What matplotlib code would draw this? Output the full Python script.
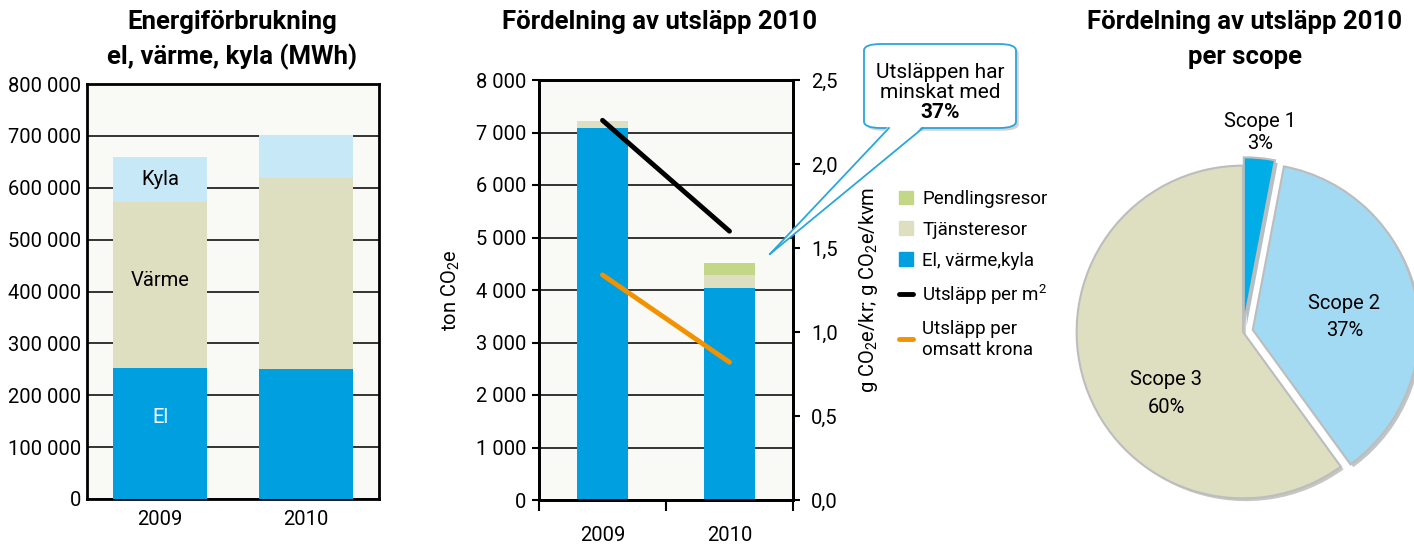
import matplotlib
matplotlib.use("Agg")
from matplotlib import pyplot as plt, patheffects as pe
from matplotlib.patches import FancyBboxPatch, Polygon, Patch
from matplotlib.lines import Line2D
from matplotlib.ticker import FuncFormatter
import numpy as np

plt.rcParams["font.family"] = ["Roboto", "DejaVu Sans"]
plt.rcParams["mathtext.fontset"] = "custom"
plt.rcParams["mathtext.rm"] = "Roboto"

W, H = 1414, 545

# Energiförbrukning (MWh)
years = ["2009", "2010"]
el = [252000, 250000]
varme = [321000, 368000]
kyla = [87000, 84000]

# Utsläpp (ton CO2e)
el_co2 = [7090, 4045]
tjanste = [130, 240]
pendling = [0, 235]
per_m2 = [2.26, 1.60]
per_krona = [1.34, 0.82]

# Scope
scope_labels = ["Scope 3\n60%", "Scope 2\n37%", "Scope 1\n3%"]
scope_share = [60, 37, 3]

BLUE = "#009fdf"
BEIGE = "#dedfc1"
LIGHTBLUE = "#c7e8f7"
GREEN = "#c4d787"
BG = "#f9f9f5"
FS = 14.5
TFS = 18.5


def px_axes(fig, left, top, right, bottom):
    """Add axes from pixel coordinates (origin top left)."""
    return fig.add_axes([left / W, (H - bottom) / H, (right - left) / W, (bottom - top) / H])


def space_thousands(v, _):
    return f"{int(v):,}".replace(",", " ")


fig = plt.figure(figsize=(W / 100, H / 100), dpi=100)

# --- chart 1 ---
ax1 = px_axes(fig, 87, 84, 379, 499)
ax1.set_facecolor(BG)
x = np.arange(len(years))
bw = 0.64
ax1.bar(x, el, bw, color=BLUE, zorder=3)
ax1.bar(x, varme, bw, bottom=el, color=BEIGE, zorder=3)
bottom_k = np.add(el, varme)
ax1.bar(x, kyla, bw, bottom=bottom_k, color=LIGHTBLUE, zorder=3)
ax1.set_xlim(-0.5, 1.5)
ax1.set_ylim(0, 800000)
ax1.set_yticks(np.arange(0, 800001, 100000))
ax1.yaxis.set_major_formatter(FuncFormatter(space_thousands))
ax1.set_xticks(x, years)
ax1.grid(axis="y", color="#333333", lw=1.4, zorder=1)
ax1.tick_params(axis="both", length=0, labelsize=FS, pad=4)
ax1.tick_params(axis="x", pad=8)
for s in ax1.spines.values():
    s.set_linewidth(2)
ax1.text(0, bottom_k[0] + kyla[0] * 0.5, "Kyla", ha="center", va="center", fontsize=FS, zorder=4)
ax1.text(0, el[0] + varme[0] * 0.53, "Värme", ha="center", va="center", fontsize=FS, zorder=4)
ax1.text(0, el[0] * 0.62, "El", ha="center", va="center", fontsize=FS, color="white", zorder=4)

fig.text(232 / W, 1 - 22 / H, "Energiförbrukning", ha="center", va="center", fontsize=TFS, fontweight="bold")
fig.text(232 / W, 1 - 57 / H, "el, värme, kyla (MWh)", ha="center", va="center", fontsize=TFS, fontweight="bold")

# --- chart 2 ---
ax2 = px_axes(fig, 539, 80, 793, 500)
ax2.set_facecolor(BG)
bw2 = 0.4
ax2.bar(x, el_co2, bw2, color=BLUE, zorder=3)
ax2.bar(x, tjanste, bw2, bottom=el_co2, color=BEIGE, zorder=3)
ax2.bar(x, pendling, bw2, bottom=np.add(el_co2, tjanste), color=GREEN, zorder=3)
ax2.set_xlim(-0.5, 1.5)
ax2.set_ylim(0, 8000)
ax2.set_yticks(np.arange(0, 8001, 1000))
ax2.yaxis.set_major_formatter(FuncFormatter(space_thousands))
ax2.grid(axis="y", color="#333333", lw=1.4, zorder=1)
ax2.set_xticks([-0.5, 0.5, 1.5])
ax2.set_xticklabels([])
ax2.set_xticks(x, years, minor=True)
ax2.tick_params(axis="x", which="major", length=8, width=1.5, direction="out")
ax2.tick_params(axis="x", which="minor", length=0, labelsize=FS, pad=19)
ax2.tick_params(axis="y", length=5, width=1.5, labelsize=FS, pad=4)
for s in ax2.spines.values():
    s.set_linewidth(2)
ax2.set_ylabel(r"ton CO$_\mathregular{2}$e", fontsize=FS, labelpad=10)

ax2r = ax2.twinx()
ax2r.set_ylim(0, 2.5)
ax2r.set_yticks(np.arange(0, 2.51, 0.5))
ax2r.yaxis.set_major_formatter(FuncFormatter(lambda v, _: f"{v:.1f}".replace(".", ",")))
ax2r.tick_params(axis="y", length=5, width=1.5, labelsize=FS, pad=8)
ax2r.plot(x, per_m2, color="black", lw=3.5, solid_capstyle="round", zorder=5)
ax2r.plot(x, per_krona, color="#f39200", lw=3.5, solid_capstyle="round", zorder=5)
for s in ax2r.spines.values():
    s.set_linewidth(2)
ax2r.set_ylabel(r"g CO$_\mathregular{2}$e/kr; g CO$_\mathregular{2}$e/kvm", fontsize=FS, labelpad=14)

fig.text(660 / W, 1 - 22 / H, "Fördelning av utsläpp 2010", ha="center", va="center", fontsize=TFS, fontweight="bold")

handles = [
    Patch(color=GREEN), Patch(color=BEIGE), Patch(color=BLUE),
    Line2D([], [], color="black", lw=3.5, solid_capstyle="round"),
    Line2D([], [], color="#f39200", lw=3.5, solid_capstyle="round"),
]
labels = ["Pendlingsresor", "Tjänsteresor", "El, värme,kyla", r"Utsläpp per m$^\mathregular{2}$",
          "Utsläpp per\nomsatt krona"]
fig.legend(handles, labels, loc="upper left", bbox_to_anchor=(899 / W, 1 - 190 / H), frameon=False,
           fontsize=13.5, handlelength=0.75, handleheight=0.75, handletextpad=0.5, labelspacing=0.68,
           borderpad=0, borderaxespad=0)

# callout
box = FancyBboxPatch((864 / W, 1 - 128 / H), 152 / W, 84 / H, transform=fig.transFigure,
                     boxstyle="round,pad=0,rounding_size=0.012", facecolor="white",
                     edgecolor="#2aa6dc", lw=1.3, zorder=10,
                     path_effects=[pe.SimplePatchShadow(offset=(2, -2), alpha=0.25), pe.Normal()])
fig.patches.append(box)
tip = (770 / W, 1 - 254 / H)
b1 = (889 / W, 1 - 128 / H)
b2 = (923 / W, 1 - 128 / H)
fig.patches.append(Polygon([(b1[0], b1[1] + 0.004), tip, (b2[0], b2[1] + 0.004)], closed=True,
                           transform=fig.transFigure, facecolor="white", edgecolor="none", zorder=11))
for b in (b1, b2):
    fig.lines.append(Line2D([b[0], tip[0]], [b[1], tip[1]], transform=fig.transFigure,
                            color="#2aa6dc", lw=1.3, zorder=12))
fig.text(940 / W, 1 - 72 / H, "Utsläppen har", ha="center", va="center", fontsize=15, zorder=13)
fig.text(940 / W, 1 - 92 / H, "minskat med", ha="center", va="center", fontsize=15, zorder=13)
fig.text(940 / W, 1 - 113 / H, "37%", ha="center", va="center", fontsize=15, fontweight="bold", zorder=13)

# --- chart 3 ---
ax3 = px_axes(fig, 1243 - 183, 332 - 183, 1243 + 183, 332 + 183)
wedges, _ = ax3.pie(scope_share, startangle=90, counterclock=True,
                    colors=[BEIGE, "#a2d9f3", "#00ade6"], explode=[0, 0.06, 0.05],
                    wedgeprops=dict(edgecolor="#bdbdbd", lw=1.5))
for w in wedges:
    w.set_path_effects([pe.SimplePatchShadow(offset=(2, -2), alpha=0.3), pe.Normal()])
ax3.set_xlim(-1.1, 1.1)
ax3.set_ylim(-1.1, 1.1)
ax3.set_aspect("equal")
ax3.text(-0.46, -0.37, scope_labels[0], ha="center", va="center", fontsize=FS, linespacing=1.55)
ax3.text(0.61, 0.09, scope_labels[1], ha="center", va="center", fontsize=FS, linespacing=1.55)
ax3.text(0.10, 1.20, scope_labels[2], ha="center", va="center", fontsize=FS, linespacing=1.2)

fig.text(1245 / W, 1 - 22 / H, "Fördelning av utsläpp 2010", ha="center", va="center", fontsize=TFS, fontweight="bold")
fig.text(1245 / W, 1 - 57 / H, "per scope", ha="center", va="center", fontsize=TFS, fontweight="bold")

fig.savefig("out.png", dpi=100, facecolor="white")
